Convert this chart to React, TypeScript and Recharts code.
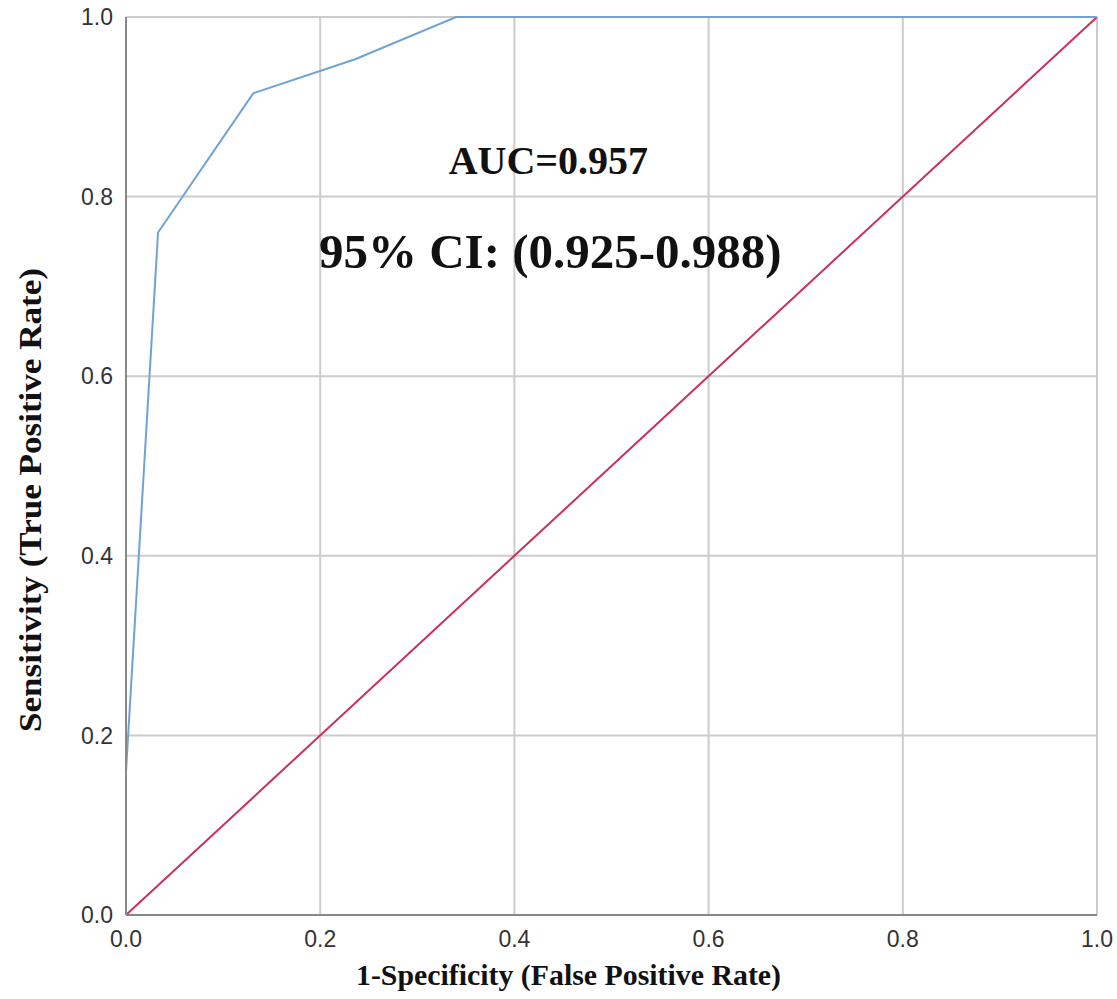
import React from "react";
import { LineChart, Line, XAxis, YAxis, CartesianGrid, ReferenceDot } from "recharts";

// ROC curve points
const fpr = [0, 0, 0.033, 0.131, 0.236, 0.34, 1];
const tpr = [0, 0.16, 0.76, 0.915, 0.953, 1, 1];
// chance diagonal
const chanceX = [0, 1];
const chanceY = [0, 1];
const ticks = [0, 0.2, 0.4, 0.6, 0.8, 1];

const rocData = fpr.map((x, i) => ({ x, roc: tpr[i] }));
const chanceData = chanceX.map((x, i) => ({ x, chance: chanceY[i] }));

const serif = "'Liberation Serif', 'Times New Roman', serif";
const sans = "'Liberation Sans', Arial, sans-serif";

const xTitle = (props: any) => {
  const vb = props.viewBox;
  return (
    <text
      x={vb.x + vb.width / 2 - 43}
      y={vb.y + 70}
      textAnchor="middle"
      fontFamily={serif}
      fontWeight="bold"
      fontSize={30}
      textLength={425}
      lengthAdjust="spacingAndGlyphs"
      fill="#111"
    >
      1-Specificity (False Positive Rate)
    </text>
  );
};

const yTitle = (props: any) => {
  const vb = props.viewBox;
  const cx = 30;
  const cy = vb.y + vb.height / 2 + 34;
  return (
    <text
      x={cx}
      y={cy}
      transform={`rotate(-90 ${cx} ${cy})`}
      textAnchor="middle"
      dominantBaseline="central"
      fontFamily={serif}
      fontWeight="bold"
      fontSize={31}
      textLength={464}
      lengthAdjust="spacingAndGlyphs"
      fill="#111"
    >
      Sensitivity (True Positive Rate)
    </text>
  );
};

const note = (text: string, size: number) => (props: any) => {
  const vb = props.viewBox;
  return (
    <text
      x={vb.x}
      y={vb.y}
      textAnchor="middle"
      fontFamily={serif}
      fontWeight="bold"
      fontSize={size}
      fill="#111"
    >
      {text}
    </text>
  );
};

const App: React.FC = () => {
  return (
    <div style={{ position: "absolute", left: 0, top: 0, background: "#fff" }}>
      <LineChart width={1117} height={999} margin={{ top: 17, right: 20, bottom: 0, left: 60 }}>
        <CartesianGrid stroke="#cccccc" strokeWidth={2} horizontalValues={ticks} verticalValues={ticks} />
        <XAxis
          type="number"
          dataKey="x"
          domain={[0, 1]}
          ticks={ticks}
          tickFormatter={(v) => Number(v).toFixed(1)}
          tickLine={false}
          tickMargin={10}
          height={84}
          stroke="#888"
          strokeWidth={2}
          tick={{ fill: "#333", fontSize: 23, fontFamily: sans }}
          label={xTitle}
        />
        <YAxis
          type="number"
          domain={[0, 1]}
          ticks={ticks}
          tickFormatter={(v) => Number(v).toFixed(1)}
          tickLine={false}
          tickMargin={7}
          width={66}
          stroke="#888"
          strokeWidth={2}
          tick={{ fill: "#333", fontSize: 23, fontFamily: sans }}
          label={yTitle}
        />
        <Line
          data={chanceData}
          dataKey="chance"
          type="linear"
          stroke="#c9305a"
          strokeWidth={2}
          dot={false}
          isAnimationActive={false}
        />
        <Line
          data={rocData}
          dataKey="roc"
          type="linear"
          stroke="#6fa3d6"
          strokeWidth={2}
          dot={false}
          isAnimationActive={false}
        />
        <ReferenceDot x={0.435} y={0.825} r={0} fill="none" stroke="none" label={note("AUC=0.957", 40)} />
        <ReferenceDot x={0.437} y={0.72} r={0} fill="none" stroke="none" label={note("95% CI: (0.925-0.988)", 49)} />
      </LineChart>
    </div>
  );
};

export default App;
